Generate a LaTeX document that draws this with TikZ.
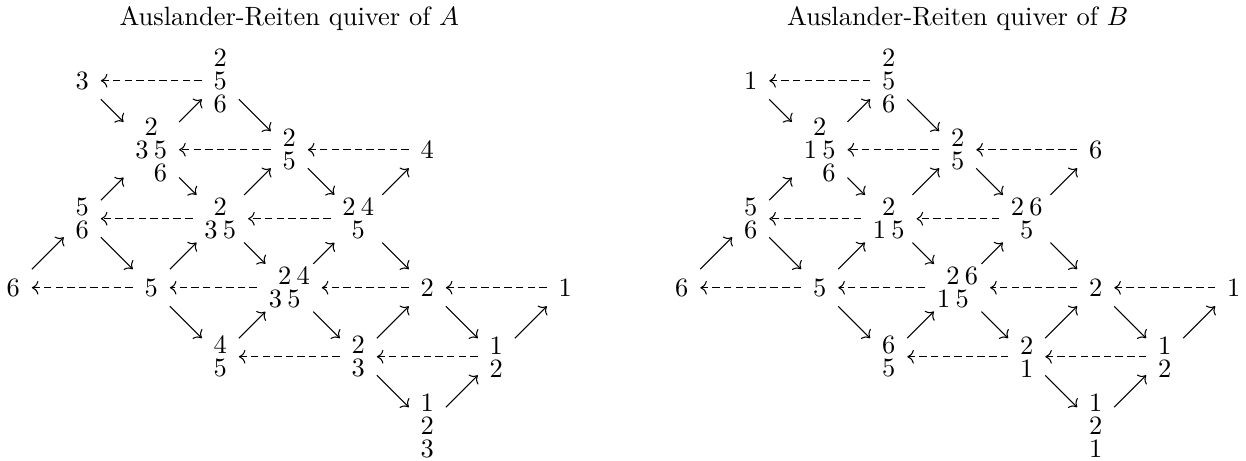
\documentclass[tikz,border=0pt]{standalone}
\usepackage{tikz}
\usetikzlibrary{arrows.meta}

\newcommand{\dsep}{\kern2pt}
\newcommand{\hstep}{\hbox to 3.5pt{}}

\begin{document}
\begin{tikzpicture}[
  x=0.9165cm, y=0.9165cm,
  mod/.style={inner xsep=1ex, inner ysep=0.85ex, align=center,
              font=\fontsize{10pt}{8.7pt}\selectfont},
  flat/.style={mod, inner ysep=1pt},
  arr/.style={-{Computer Modern Rightarrow}},
  tau/.style={-{Computer Modern Rightarrow}, dash pattern=on 2.8pt off 1.6pt},
  ttl/.style={anchor=base}
]
\useasboundingbox (-0.193,-2.497) rectangle (17.865,4.170);

%% Titles
\node[ttl] (tA) at (4,3.807) {Auslander-Reiten quiver of $A$};
\node[ttl] (tB) at (13.687,3.807) {Auslander-Reiten quiver of $B$};

%% Simple and three-layer modules: row/col/label in A/label in B
\foreach \r/\c/\la/\lb in {
  0/1/3/1, 0/3/{2\\5\\6}/{2\\5\\6},
  1/2/{2\\3\dsep5\\\hphantom{3}\dsep6}/{2\\1\dsep5\\\hphantom{1}\dsep6}, 1/6/4/6,
  3/0/6/6, 3/2/5/5, 3/6/2/2, 3/8/1/1,
  5/6/{1\\2\\3}/{1\\2\\1}}{
  \node[mod] (a\r\c) at (\c,3-\r) {\la};
  \node[mod] (b\r\c) at (\c+9.687,3-\r) {\lb};
}

%% Two-layer modules
\foreach \r/\c/\la/\lb in {
  1/4/{2\\5}/{2\\5},
  2/1/{5\\6}/{5\\6}, 2/3/{2\\3\dsep5}/{2\\1\dsep5}, 2/5/{2\dsep4\\5}/{2\dsep6\\5},
  3/4/{\hstep2\dsep4\\3\dsep5\hstep}/{\hstep2\dsep6\\1\dsep5\hstep},
  4/3/{4\\5}/{6\\5}, 4/5/{2\\3}/{2\\1}, 4/7/{1\\2}/{1\\2}}{
  \node[flat] (a\r\c) at (\c,3-\r) {\la};
  \node[flat] (b\r\c) at (\c+9.687,3-\r) {\lb};
}

%% Irreducible maps and translates
\foreach \q in {a,b}{
  \foreach \s/\t in {01/12, 12/03, 03/14, 21/12, 12/23, 23/14, 14/25, 25/16,
                     30/21, 21/32, 32/23, 23/34, 34/25, 25/36,
                     32/43, 43/34, 34/45, 45/36, 36/47, 47/38, 45/56, 56/47}{
    \draw[arr] (\q\s) -- (\q\t);
  }
  \foreach \s/\t in {03/01, 14/12, 16/14, 23/21, 25/23, 32/30, 34/32, 36/34,
                     38/36, 45/43, 47/45}{
    \draw[tau] (\q\s) -- (\q\t);
  }
}
\end{tikzpicture}
\end{document}
